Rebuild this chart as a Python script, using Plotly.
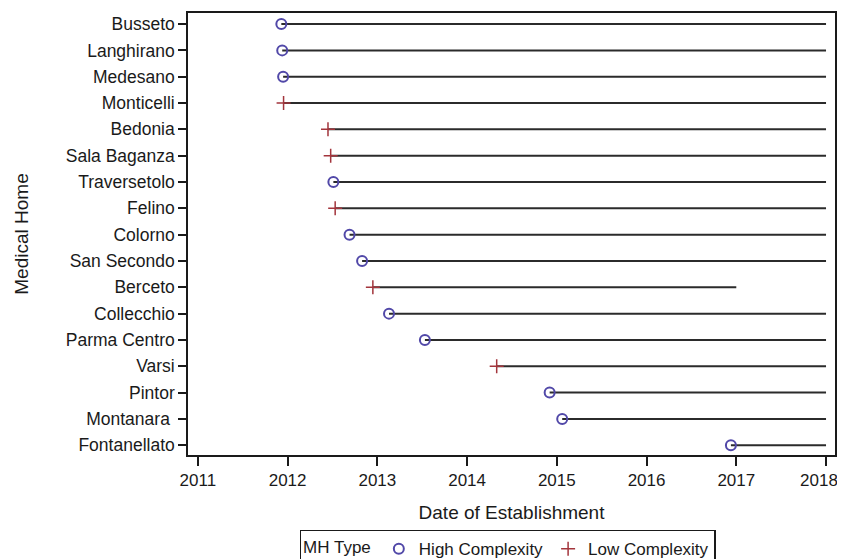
import plotly.graph_objects as go

homes = ["Busseto", "Langhirano", "Medesano", "Monticelli", "Bedonia", "Sala Baganza",
         "Traversetolo", "Felino", "Colorno", "San Secondo", "Berceto", "Collecchio",
         "Parma Centro", "Varsi", "Pintor", "Montanara ", "Fontanellato"]
start = [2011.93, 2011.94, 2011.95, 2011.955, 2012.45, 2012.48,
         2012.51, 2012.53, 2012.69, 2012.83, 2012.95, 2013.13,
         2013.53, 2014.33, 2014.92, 2015.06, 2016.94]
end = [2018, 2018, 2018, 2018, 2018, 2018,
       2018, 2018, 2018, 2018, 2017, 2018,
       2018, 2018, 2018, 2018, 2018]
mh_type = ["High", "High", "High", "Low", "Low", "Low",
           "High", "Low", "High", "High", "Low", "High",
           "High", "Low", "High", "High", "High"]
year_ticks = [2011, 2012, 2013, 2014, 2015, 2016, 2017, 2018]

FONT = "Liberation Sans, Arial, sans-serif"
BLUE = "#5148a8"
RED = "#a3353c"

lx, ly = [], []
for h, s, e in zip(homes, start, end):
    lx += [s, e, None]
    ly += [h, h, None]

fig = go.Figure()
fig.add_trace(go.Scatter(x=lx, y=ly, mode="lines", line=dict(color="#2b2b2b", width=2),
                         showlegend=False, hoverinfo="skip"))

hx = [s for s, t in zip(start, mh_type) if t == "High"]
hy = [h for h, t in zip(homes, mh_type) if t == "High"]
lox = [s for s, t in zip(start, mh_type) if t == "Low"]
loy = [h for h, t in zip(homes, mh_type) if t == "Low"]

fig.add_trace(go.Scatter(x=hx, y=hy, mode="markers", name="High Complexity",
                         marker=dict(symbol="circle-open", size=10, color=BLUE,
                                     line=dict(width=2, color=BLUE))))
fig.add_trace(go.Scatter(x=lox, y=loy, mode="markers", name="Low Complexity",
                         marker=dict(symbol="cross-thin-open", size=10, color=RED,
                                     line=dict(width=1.5, color=RED))))

# last tick label padded on the right so it stays inside the page edge
tick_text = [str(v) for v in year_ticks]
tick_text[-1] = tick_text[-1] + "\u00a0\u00a0\u00a0"

fig.update_layout(
    width=837, height=551,
    margin=dict(l=180, r=10, t=5, b=104, autoexpand=False),
    paper_bgcolor="white", plot_bgcolor="white",
    font=dict(family=FONT, size=16, color="#1a1a1a"),
    legend=dict(orientation="h", x=0.494, xanchor="center", y=-0.169, yanchor="top",
                title=dict(text="MH Type", font=dict(size=17)),
                bordercolor="#1a1a1a", borderwidth=1.5, font=dict(size=17),
                itemwidth=30, tracegroupgap=0),
)
fig.update_xaxes(
    range=[2010.89, 2018.1], tickvals=year_ticks, ticktext=tick_text,
    ticks="outside", ticklen=9, tickwidth=1.5, tickcolor="#1a1a1a",
    showline=True, linecolor="#1a1a1a", linewidth=1.5, mirror=True,
    showgrid=False, zeroline=False, tickfont=dict(size=17), ticklabelstandoff=0,
    ticklabeloverflow="allow", automargin=False,
    title=dict(text="Date of Establishment", font=dict(size=19), standoff=17),
)
fig.update_yaxes(
    categoryorder="array", categoryarray=homes, range=[16.37, -0.42],
    ticks="outside", ticklen=8, tickwidth=1.5, tickcolor="#1a1a1a",
    showline=True, linecolor="#1a1a1a", linewidth=1.5, mirror=True,
    showgrid=False, zeroline=False, tickfont=dict(size=17.5),
    automargin=False,
    title=dict(text="Medical Home", font=dict(size=19), standoff=32),
)

fig.write_html("out.html")
